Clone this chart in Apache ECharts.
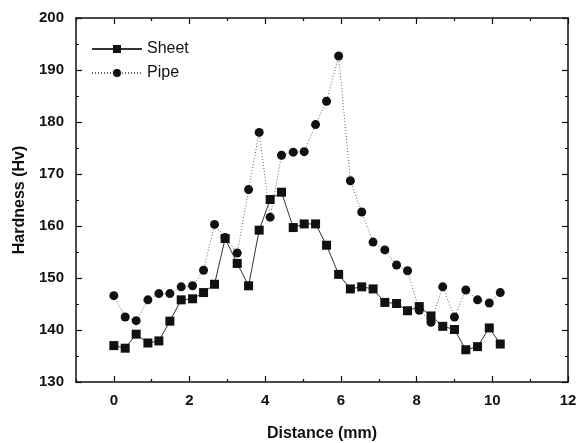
<!DOCTYPE html>
<html>
<head>
<meta charset="utf-8">
<title>Hardness profile</title>
<script src="https://cdn.jsdelivr.net/npm/echarts@6/dist/echarts.min.js"></script>
<style>
  html, body { margin: 0; padding: 0; background: #fff; }
  #main { width: 579px; height: 443px; }
</style>
</head>
<body>
<div id="main"></div>
<script>
// distance along the sample (mm)
var distance = [0, 0.3, 0.59, 0.9, 1.19, 1.48, 1.78, 2.08, 2.37, 2.66, 2.94, 3.26, 3.56, 3.84, 4.13, 4.43, 4.74,
  5.03, 5.33, 5.62, 5.94, 6.25, 6.55, 6.85, 7.16, 7.47, 7.76, 8.07, 8.38, 8.69, 9.0, 9.3, 9.61, 9.92, 10.21];
// hardness (Hv)
var sheet = [137.0, 136.5, 139.2, 137.5, 137.9, 141.7, 145.8, 146.0, 147.2, 148.8, 157.6, 152.8, 148.5, 159.2,
  165.1, 166.5, 159.7, 160.4, 160.4, 156.3, 150.7, 147.9, 148.3, 147.9, 145.3, 145.1, 143.7, 144.5, 142.7,
  140.7, 140.1, 136.2, 136.8, 140.4, 137.3];
var pipe = [146.6, 142.5, 141.8, 145.8, 147.0, 147.0, 148.3, 148.5, 151.5, 160.3, 157.8, 154.8, 167.0, 178.0,
  161.7, 173.6, 174.2, 174.3, 179.5, 184.0, 192.7, 168.7, 162.7, 156.9, 155.4, 152.5, 151.4, 143.8, 141.5,
  148.3, 142.5, 147.7, 145.8, 145.2, 147.2];
var xTicks = [0, 2, 4, 6, 8, 10, 12];
var xMinor = [-1, 1, 3, 5, 7, 9, 11];
var yTicks = [130, 140, 150, 160, 170, 180, 190, 200];

function pairs(xs, ys) {
  return xs.map(function (x, i) { return [x, ys[i]]; });
}

var ink = '#111';
var fam = 'Liberation Sans, Arial';
var labelFont = { color: ink, fontFamily: fam, fontWeight: 'bold', fontSize: 15 };
var nameFont = { color: ink, fontFamily: fam, fontWeight: 'bold', fontSize: 16 };

// x axes: major ticks/labels on even mm, short ticks on odd mm, mirrored on top
function xAxisAt(pos, minor, withLabels) {
  var a = {
    type: 'value', min: -1, max: 12, position: pos,
    axisLine: { show: !minor, onZero: false, lineStyle: { color: ink, width: 1.5 } },
    axisTick: { show: true, inside: true, length: minor ? 3 : 6,
      customValues: minor ? xMinor : xTicks, lineStyle: { color: ink, width: 1.2 } },
    splitLine: { show: false },
    axisLabel: { show: false }
  };
  if (withLabels) {
    a.axisLabel = Object.assign({ show: true, margin: 11, customValues: xTicks }, labelFont);
    a.name = 'Distance (mm)';
    a.nameLocation = 'middle';
    a.nameGap = 44;
    a.nameTextStyle = nameFont;
  }
  return a;
}

function yAxisAt(pos, withLabels) {
  var a = {
    type: 'value', min: yTicks[0], max: yTicks[yTicks.length - 1], interval: 10, position: pos,
    axisLine: { show: true, onZero: false, lineStyle: { color: ink, width: 1.5 } },
    axisTick: { show: true, inside: true, length: 6, lineStyle: { color: ink, width: 1.2 } },
    minorTick: { show: true, splitNumber: 2, length: 3, lineStyle: { color: ink } },
    splitLine: { show: false },
    axisLabel: { show: false }
  };
  if (withLabels) {
    a.axisLabel = Object.assign({ show: true, margin: 12 }, labelFont);
    a.name = 'Hardness (Hv)';
    a.nameLocation = 'middle';
    a.nameGap = 48;
    a.nameTextStyle = nameFont;
  }
  return a;
}

var myChart = echarts.init(document.getElementById('main'));
var option = {
  animation: false,
  backgroundColor: '#fff',
  grid: { left: 76, right: 11, top: 18, bottom: 61, outerBoundsMode: 'none', containLabel: false },
  legend: {
    left: 86, top: 36, orient: 'vertical', itemGap: 8,
    itemWidth: 50, itemHeight: 10,
    textStyle: { color: ink, fontFamily: fam, fontSize: 16 },
    data: ['Sheet', 'Pipe']
  },
  xAxis: [
    xAxisAt('bottom', false, true),
    xAxisAt('bottom', true, false),
    xAxisAt('top', false, false),
    xAxisAt('top', true, false)
  ],
  yAxis: [
    yAxisAt('left', true),
    yAxisAt('right', false)
  ],
  series: [
    {
      name: 'Sheet', type: 'line', xAxisIndex: 0, yAxisIndex: 0,
      data: pairs(distance, sheet),
      symbol: 'rect', symbolSize: 9,
      itemStyle: { color: ink },
      lineStyle: { color: '#333', width: 1 },
      z: 3
    },
    {
      name: 'Pipe', type: 'line', xAxisIndex: 0, yAxisIndex: 0,
      data: pairs(distance, pipe),
      symbol: 'circle', symbolSize: 9,
      itemStyle: { color: ink },
      lineStyle: { color: '#666', width: 1, type: [1, 2] },
      z: 2
    }
  ]
};
myChart.setOption(option);
</script>
</body>
</html>
